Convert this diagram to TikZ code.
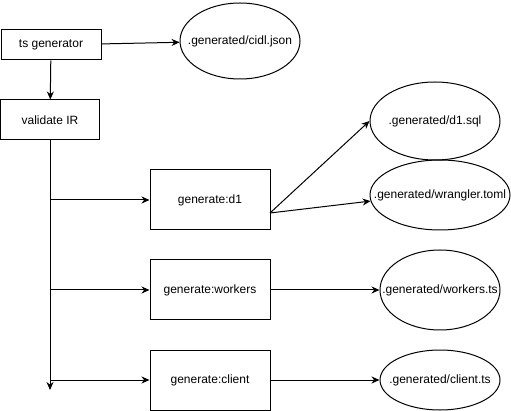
\documentclass[tikz,border=0pt]{standalone}
\usepackage{fontspec}
\setmainfont{Liberation Sans}
\usetikzlibrary{shapes.geometric,arrows.meta}
\begin{document}
\begin{tikzpicture}[x=1pt,y=-1pt,line width=1pt,font=\fontsize{12}{14}\selectfont,
    stage/.style={draw,rectangle,inner sep=0pt,minimum width=120pt,minimum height=60pt},
    output/.style={draw,ellipse,inner sep=0pt},
    flow/.style={-{Stealth[length=8pt,width=7pt]}}]
  \useasboundingbox (0,0) rectangle (511,411);
  \draw
    (51,45) node[stage,minimum width=100pt,minimum height=30pt] (ts){ts generator}
    (50,120) node[stage,minimum width=99pt,minimum height=40pt] (validate){validate IR}
    (210,200) node[stage] (d1){generate:d1}
    (210,290) node[stage] (workers){generate:workers}
    (210,380) node[stage] (client){generate:client}
    (240,41) node[output,minimum width=120pt,minimum height=76pt] (cidl){\makebox[0pt]{.generated/cidl.json}}
    (435,121) node[output,minimum width=130pt,minimum height=78pt] (sql){\makebox[0pt]{.generated/d1.sql}}
    (440,195) node[output,minimum width=140pt,minimum height=70pt] (wrangler){\makebox[0pt]{.generated/wrangler.toml}}
    (440,290) node[output,minimum width=120pt,minimum height=80pt] (workersts){\makebox[0pt]{.generated/workers.ts}}
    (440,380) node[output,minimum width=120pt,minimum height=60pt] (clientts){\makebox[0pt]{.generated/client.ts}};
  \coordinate (b1) at (50,200);
  \coordinate (b2) at (50,290);
  \coordinate (b3) at (50,380);
  \coordinate (end) at (50,390);
  \coordinate (d1out) at (270,213);
  \begin{scope}[flow]
    \draw (ts) to (cidl);
    \draw (ts) to (validate);
    \draw (validate) to (end);
    \draw (b1) to (d1);
    \draw (b2) to (workers);
    \draw (b3) to (client);
    \draw (d1out) to (sql.west);
    \draw (d1out) to (wrangler.185);
    \draw (workers) to (workersts);
    \draw (client) to (clientts);
  \end{scope}
\end{tikzpicture}
\end{document}
